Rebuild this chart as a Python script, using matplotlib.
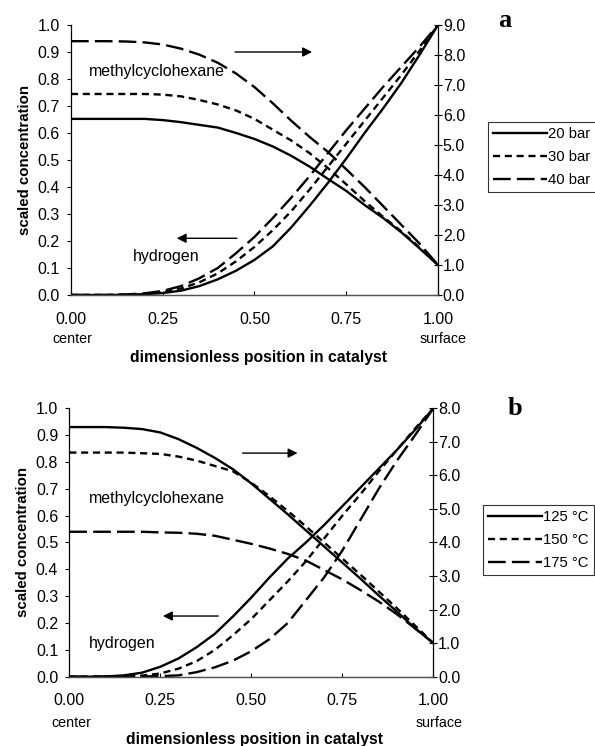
import matplotlib
matplotlib.use("Agg")
import matplotlib.pyplot as plt

plt.rcParams['font.family'] = ['Liberation Sans', 'DejaVu Sans']

# ---------------- data ----------------
pos = [0.00, 0.05, 0.10, 0.15, 0.20, 0.25, 0.30, 0.35, 0.40, 0.45, 0.50,
       0.55, 0.60, 0.65, 0.70, 0.75, 0.80, 0.85, 0.90, 0.95, 1.00]

# panel a: pressure series
labels_a = ["20 bar", "30 bar", "40 bar"]
h2_a_20 = [0, 0, 0, 0.001, 0.003, 0.007, 0.016, 0.033, 0.058, 0.09, 0.13,
           0.18, 0.25, 0.33, 0.415, 0.505, 0.60, 0.69, 0.785, 0.89, 1.0]
h2_a_30 = [0, 0, 0, 0.001, 0.004, 0.011, 0.024, 0.047, 0.08, 0.125, 0.178,
           0.24, 0.31, 0.39, 0.475, 0.56, 0.645, 0.73, 0.815, 0.905, 1.0]
h2_a_40 = [0, 0, 0, 0.002, 0.006, 0.015, 0.033, 0.062, 0.10, 0.155, 0.215,
           0.285, 0.36, 0.44, 0.525, 0.61, 0.69, 0.77, 0.845, 0.92, 1.0]
mch_a_20 = [5.87, 5.87, 5.87, 5.87, 5.87, 5.83, 5.76, 5.67, 5.58, 5.40, 5.20,
            4.95, 4.64, 4.28, 3.87, 3.47, 3.00, 2.57, 2.09, 1.55, 1.0]
mch_a_30 = [6.70, 6.70, 6.70, 6.70, 6.70, 6.68, 6.62, 6.50, 6.35, 6.15, 5.87,
            5.51, 5.15, 4.73, 4.23, 3.69, 3.13, 2.61, 2.12, 1.58, 1.0]
mch_a_40 = [8.46, 8.46, 8.46, 8.45, 8.42, 8.35, 8.21, 8.01, 7.74, 7.38, 6.93,
            6.39, 5.81, 5.27, 4.77, 4.19, 3.60, 2.97, 2.34, 1.71, 1.0]

# panel b: temperature series
labels_b = ["125 \u00b0C", "150 \u00b0C", "175 \u00b0C"]
h2_b_125 = [0, 0, 0.001, 0.005, 0.015, 0.037, 0.068, 0.11, 0.16, 0.225, 0.295,
            0.37, 0.44, 0.50, 0.565, 0.635, 0.705, 0.775, 0.845, 0.92, 1.0]
h2_b_150 = [0, 0, 0, 0.001, 0.004, 0.012, 0.03, 0.058, 0.10, 0.155, 0.215,
            0.285, 0.355, 0.43, 0.515, 0.60, 0.68, 0.765, 0.845, 0.925, 1.0]
h2_b_175 = [0, 0, 0, 0, 0.001, 0.002, 0.005, 0.017, 0.035, 0.06, 0.095,
            0.14, 0.20, 0.285, 0.37, 0.47, 0.585, 0.70, 0.805, 0.90, 1.0]
mch_b_125 = [7.44, 7.44, 7.44, 7.42, 7.38, 7.28, 7.08, 6.82, 6.52, 6.18, 5.76,
             5.30, 4.84, 4.36, 3.88, 3.40, 2.92, 2.42, 1.94, 1.44, 1.0]
mch_b_150 = [6.68, 6.68, 6.68, 6.68, 6.66, 6.64, 6.56, 6.44, 6.28, 6.12, 5.78,
             5.38, 4.94, 4.48, 4.00, 3.52, 3.04, 2.54, 2.04, 1.52, 1.0]
mch_b_175 = [4.32, 4.32, 4.32, 4.32, 4.32, 4.30, 4.29, 4.26, 4.20, 4.08, 3.96,
             3.82, 3.66, 3.46, 3.18, 2.90, 2.58, 2.24, 1.86, 1.44, 1.0]

xticks = [0.00, 0.25, 0.50, 0.75, 1.00]
xtick_labels = ["0.00", "0.25", "0.50", "0.75", "1.00"]
left_ticks = [0.0, 0.1, 0.2, 0.3, 0.4, 0.5, 0.6, 0.7, 0.8, 0.9, 1.0]

# ---------------- styles ----------------
LW = 1.7
styles = ['-', (0, (3.0, 2.0)), (0, (7.5, 2.6))]
TICK_FS = 11.5
TXT_FS = 11.5

fig = plt.figure(figsize=(5.95, 7.46), dpi=100)


def make_panel(rect, h2_series, mch_series, labels, rmax, letter, letter_xy,
               legend_xy, arrow_r, arrow_l, mch_txt, h2_txt, xlab_y, sub_y):
    ax = fig.add_axes(rect)
    ax2 = ax.twinx()
    for h, m, ls in zip(h2_series, mch_series, styles):
        ax.plot(pos, h, color='black', lw=LW, ls=ls)
        ax2.plot(pos, m, color='black', lw=LW, ls=ls)
    ax.set_xlim(0, 1)
    ax.set_ylim(0, 1)
    ax2.set_ylim(0, rmax)
    ax.set_yticks(left_ticks)
    ax.set_yticklabels([f"{v:.1f}" for v in left_ticks])
    rt = list(range(0, rmax + 1))
    ax2.set_yticks(rt)
    ax2.set_yticklabels([f"{v:.1f}" for v in rt])
    ax.set_xticks(xticks)
    ax.set_xticklabels(xtick_labels)
    for a in (ax, ax2):
        a.spines['top'].set_visible(False)
        a.spines['left'].set_linewidth(0.9)
        a.spines['right'].set_linewidth(0.9)
        a.spines['bottom'].set_color('#555555')
        a.spines['bottom'].set_linewidth(0.9)
    ax2.spines['left'].set_visible(False)
    ax.spines['right'].set_visible(False)
    ax.tick_params(axis='y', direction='out', length=3, width=0.8,
                   labelsize=TICK_FS, pad=5)
    ax2.tick_params(axis='y', direction='inout', length=6, width=0.8,
                    labelsize=TICK_FS, pad=0.5)
    ax.tick_params(axis='x', direction='in', length=3, width=0.8,
                   labelsize=TICK_FS, pad=12)
    ax.set_ylabel("scaled concentration", fontsize=10.8, fontweight='bold',
                  labelpad=4)
    ax.text(-0.05, sub_y, "center", transform=ax.transAxes, fontsize=10.3,
            ha='left', va='center')
    ax.text(1.015, sub_y, "surface", transform=ax.transAxes, fontsize=10.3,
            ha='center', va='center')
    ax.text(0.51, xlab_y, "dimensionless position in catalyst",
            transform=ax.transAxes, fontsize=11.3, fontweight='bold',
            ha='center', va='center')
    # arrows
    for (x0, x1, y) in (arrow_r, arrow_l):
        ax.annotate("", xy=(x1, y), xytext=(x0, y),
                    arrowprops=dict(arrowstyle='-|>', color='black', lw=1.0,
                                    mutation_scale=14, shrinkA=0, shrinkB=0))
    ax.text(mch_txt[0], mch_txt[1], "methylcyclohexane", fontsize=TXT_FS,
            ha='left', va='center')
    ax.text(h2_txt[0], h2_txt[1], "hydrogen", fontsize=TXT_FS, ha='left',
            va='center')
    fig.text(letter_xy[0], letter_xy[1], letter, fontsize=19,
             fontweight='bold', family='Liberation Serif', ha='center',
             va='center')
    handles = [plt.Line2D([], [], color='black', lw=LW, ls=ls) for ls in styles]
    leg = fig.legend(handles, labels, loc='upper left',
                     bbox_to_anchor=legend_xy, frameon=True, fancybox=False,
                     edgecolor='black', fontsize=10.7, handlelength=3.6,
                     handletextpad=0.1, borderpad=0.35, labelspacing=0.6,
                     borderaxespad=0)
    leg.get_frame().set_linewidth(0.8)
    return ax


make_panel([0.1193, 0.6046, 0.6168, 0.3619],
           [h2_a_20, h2_a_30, h2_a_40], [mch_a_20, mch_a_30, mch_a_40],
           labels_a, 9, "a", (0.849, 0.972), (0.820, 0.8365),
           (0.447, 0.657, 0.90), (0.452, 0.288, 0.21),
           (0.049, 0.826), (0.169, 0.141), -0.232, -0.163)

make_panel([0.1165, 0.0929, 0.6118, 0.3598],
           [h2_b_125, h2_b_150, h2_b_175], [mch_b_125, mch_b_150, mch_b_175],
           labels_b, 8, "b", (0.866, 0.452), (0.812, 0.323),
           (0.476, 0.627, 0.833), (0.409, 0.257, 0.226),
           (0.054, 0.665), (0.054, 0.124), -0.235, -0.172)

fig.savefig("out.png", dpi=100)
